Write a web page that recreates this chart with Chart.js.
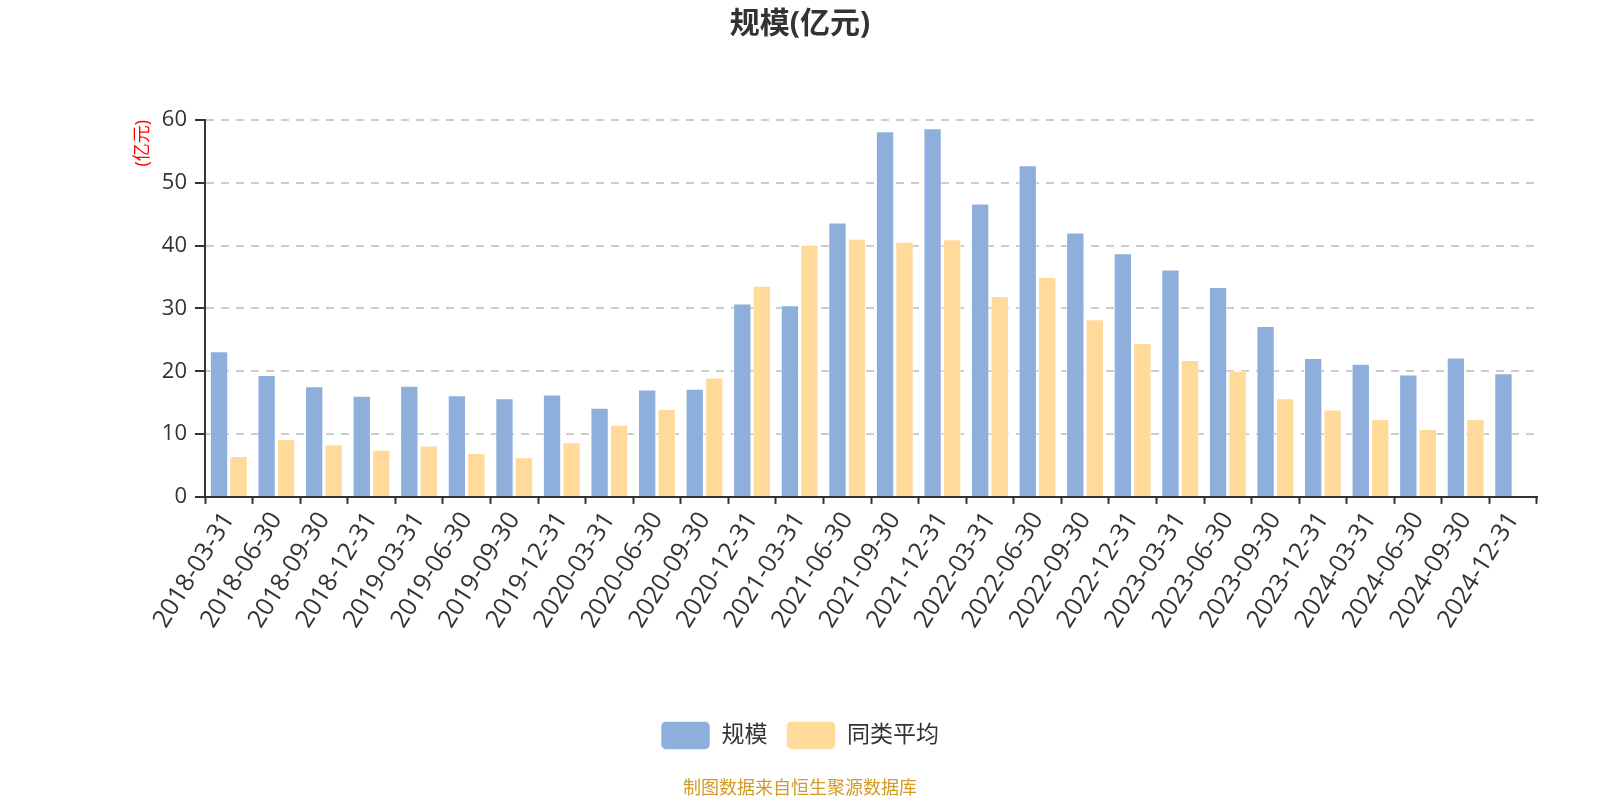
<!DOCTYPE html>
<html lang="zh-CN">
<head>
    <meta charset="UTF-8">
    <title>规模(亿元)</title>
    <style>
        html, body {
            margin: 0;
            padding: 0;
            background: #fff;
        }
        #chart {
            display: block;
        }
    </style>
</head>
<body>
    <canvas id="chart" width="1600" height="800"></canvas>

    <script src="https://cdn.jsdelivr.net/npm/chart.js"></script>
    <script>
        const dates = [
            '2018-03-31', '2018-06-30', '2018-09-30', '2018-12-31',
            '2019-03-31', '2019-06-30', '2019-09-30', '2019-12-31',
            '2020-03-31', '2020-06-30', '2020-09-30', '2020-12-31',
            '2021-03-31', '2021-06-30', '2021-09-30', '2021-12-31',
            '2022-03-31', '2022-06-30', '2022-09-30', '2022-12-31',
            '2023-03-31', '2023-06-30', '2023-09-30', '2023-12-31',
            '2024-03-31', '2024-06-30', '2024-09-30', '2024-12-31'
        ];

        // 规模 (亿元)
        const fundSize = [
            23.2, 19.4, 17.6, 16.1, 17.7, 16.2, 15.7, 16.3,
            14.2, 17.1, 17.2, 30.8, 30.5, 43.7, 58.2, 58.7,
            46.7, 52.8, 42.1, 38.8, 36.2, 33.4, 27.2, 22.1,
            21.2, 19.5, 22.2, 19.7
        ];

        // 同类平均 (last quarter not reported)
        const peerAverage = [
            6.5, 9.2, 8.4, 7.5, 8.2, 7.0, 6.3, 8.7,
            11.5, 14.0, 19.0, 33.6, 40.1, 41.1, 40.6, 41.0,
            32.0, 35.0, 28.3, 24.5, 21.8, 20.1, 15.7, 13.9,
            12.4, 10.8, 12.4, null
        ];

        const yMin = 0;
        const yMax = 60;
        const yStep = 10;

        const fontFamily = '"Open Sans", "Noto Sans CJK SC", sans-serif';
        Chart.defaults.font.family = fontFamily;
        Chart.defaults.color = '#333';

        const ctx = document.getElementById('chart').getContext('2d');

        new Chart(ctx, {
            type: 'bar',
            data: {
                labels: dates,
                datasets: [
                    {
                        label: '规模',
                        data: fundSize,
                        backgroundColor: '#8eaedb',
                        borderColor: 'rgba(255,255,255,0.6)',
                        borderWidth: 1,
                        categoryPercentage: 0.82,
                        barPercentage: 0.94
                    },
                    {
                        label: '同类平均',
                        data: peerAverage,
                        backgroundColor: '#ffda9a',
                        borderColor: 'rgba(255,255,255,0.6)',
                        borderWidth: 1,
                        categoryPercentage: 0.82,
                        barPercentage: 0.94
                    }
                ]
            },
            options: {
                responsive: false,
                animation: false,
                layout: {
                    padding: { left: 63, right: 63, top: 0, bottom: 0 }
                },
                plugins: {
                    title: {
                        display: true,
                        text: '规模(亿元)',
                        color: '#333',
                        font: { size: 30, weight: 'bold' },
                        padding: { top: 6, bottom: 78 }
                    },
                    subtitle: {
                        display: true,
                        position: 'bottom',
                        text: '制图数据来自恒生聚源数据库',
                        color: '#d29a26',
                        font: { size: 18 },
                        padding: { top: 19, bottom: 0 }
                    },
                    legend: {
                        position: 'bottom',
                        labels: {
                            boxWidth: 49,
                            boxHeight: 28,
                            useBorderRadius: true,
                            borderRadius: 5,
                            padding: 19,
                            color: '#333',
                            font: { size: 23 }
                        }
                    },
                    tooltip: { enabled: false }
                },
                scales: {
                    x: {
                        grid: {
                            offset: true,
                            drawOnChartArea: false,
                            tickLength: 7,
                            tickColor: '#333',
                            tickWidth: 2
                        },
                        border: { color: '#333', width: 2 },
                        ticks: {
                            autoSkip: false,
                            minRotation: 58,
                            maxRotation: 58,
                            color: '#333',
                            font: { size: 25 }
                        },
                        afterFit(scale) {
                            scale.height = 205.5;
                        }
                    },
                    y: {
                        min: yMin,
                        max: yMax,
                        ticks: {
                            stepSize: yStep,
                            padding: 8,
                            color: '#333',
                            font: { size: 22 }
                        },
                        grid: {
                            color: '#cccccc',
                            lineWidth: 2,
                            tickLength: 10,
                            tickColor: '#333',
                            tickWidth: 2,
                            tickBorderDash: []
                        },
                        border: { color: '#333', width: 2, dash: [8, 7] },
                        title: {
                            display: true,
                            text: '(亿元)',
                            color: '#ff0000',
                            align: 'end',
                            font: { size: 18 },
                            padding: { top: 69, bottom: 0 }
                        },
                        afterFit(scale) {
                            scale.width = 142;
                        }
                    }
                }
            }
        });
    </script>
</body>
</html>
